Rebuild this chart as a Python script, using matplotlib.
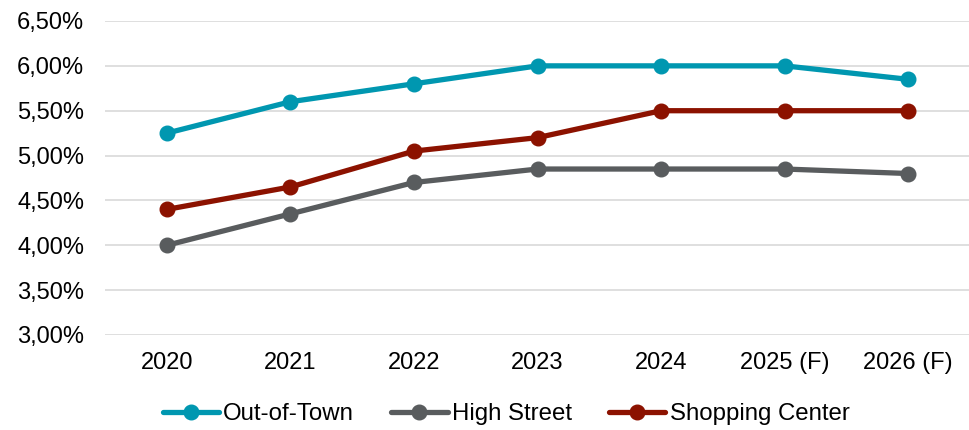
import matplotlib
matplotlib.use("Agg")
import matplotlib.pyplot as plt
from matplotlib.ticker import FuncFormatter

plt.rcParams['font.family'] = ['Liberation Sans', 'DejaVu Sans']

years = ["2020", "2021", "2022", "2023", "2024", "2025 (F)", "2026 (F)"]
out_of_town = [5.25, 5.60, 5.80, 6.00, 6.00, 6.00, 5.85]
high_street = [4.00, 4.35, 4.70, 4.85, 4.85, 4.85, 4.80]
shopping_center = [4.40, 4.65, 5.05, 5.20, 5.50, 5.50, 5.50]
yticks = [3.0, 3.5, 4.0, 4.5, 5.0, 5.5, 6.0, 6.5]

series = [
    ("Out-of-Town", out_of_town, "#0097B0"),
    ("High Street", high_street, "#595C5E"),
    ("Shopping Center", shopping_center, "#8C1200"),
]

fig = plt.figure(figsize=(9.7, 4.3), dpi=100)
ax = fig.add_axes([105/970, 1-335/430, 865/970, (335-21)/430])

x = list(range(len(years)))
for name, vals, col in series:
    ax.plot(x, vals, color=col, lw=3.8, marker='o', markersize=10.5, label=name,
            solid_capstyle='round', zorder=3)

ax.set_xlim(-0.5, len(years)-0.5)
ax.set_ylim(3.0, 6.5)
ax.set_yticks(yticks)
ax.yaxis.set_major_formatter(FuncFormatter(lambda v, p: f"{v:.2f}%".replace('.', ',')))
ax.set_xticks(x)
ax.set_xticklabels(years)
ax.grid(axis='y', color='#D9D9D9', lw=1.2, zorder=0)
for s in ax.spines.values():
    s.set_visible(False)
ax.tick_params(length=0, labelsize=17, colors='#000000')
ax.tick_params(axis='x', pad=12)
ax.tick_params(axis='y', pad=15)

leg = fig.legend(loc='center', bbox_to_anchor=(506/970, 1-414/430), ncol=3, frameon=False,
                 fontsize=17.3, handlelength=2.35, handletextpad=0.17, columnspacing=1.55)

fig.savefig("out.png", dpi=100)
